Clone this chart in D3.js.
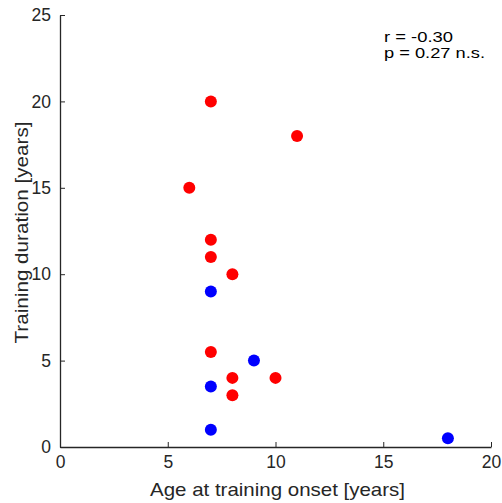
<!DOCTYPE html>
<html>
<head>
<meta charset="utf-8">
<script src="https://cdn.jsdelivr.net/npm/d3@7"></script>
<style>
  body { margin: 0; background: #fff; }
  svg text { font-family: "Liberation Sans", Arial, sans-serif; fill: #262626; }
</style>
</head>
<body>
<svg width="502" height="503"></svg>
<script>
// red group
const redAge = [7, 11, 6, 7, 7, 8, 7, 8, 10, 8];
const redDur = [20, 18, 15, 12, 11, 10, 5.5, 4, 4, 3];
// blue group
const blueAge = [7, 9, 7, 7, 18];
const blueDur = [9, 5, 3.5, 1, 0.5];

const xTicks = [0, 5, 10, 15, 20];
const yTicks = [0, 5, 10, 15, 20, 25];
const statLines = ["r = -0.30", "p = 0.27 n.s."];

const svg = d3.select("svg");

const x = d3.scaleLinear().domain([0, 20]).range([60, 491]);
const y = d3.scaleLinear().domain([0, 25]).range([447, 15]);

// axes, ticks point inward like matlab
const xAxis = d3.axisBottom(x).tickValues(xTicks).tickSize(-5).tickPadding(9).tickSizeOuter(0);
const yAxis = d3.axisLeft(y).tickValues(yTicks).tickSize(-5).tickPadding(9).tickSizeOuter(0);

const gx = svg.append("g").attr("transform", "translate(0,447)").call(xAxis);
const gy = svg.append("g").attr("transform", "translate(60,0)").call(yAxis);

[gx, gy].forEach(g => {
    g.select(".domain").attr("stroke", "#262626").attr("stroke-width", 1.3);
    g.selectAll(".tick line").attr("stroke", "#262626");
    g.selectAll(".tick text").attr("font-size", "17.5px").attr("fill", "#262626");
});

const red = redAge.map((a, i) => ({ x: a, y: redDur[i] }));
const blue = blueAge.map((a, i) => ({ x: a, y: blueDur[i] }));

svg.append("g").selectAll("circle")
    .data(red)
    .enter()
    .append("circle")
    .attr("r", 6)
    .attr("cx", d => x(d.x))
    .attr("cy", d => y(d.y))
    .attr("fill", "#ff0000");

svg.append("g").selectAll("circle")
    .data(blue)
    .enter()
    .append("circle")
    .attr("r", 6)
    .attr("cx", d => x(d.x))
    .attr("cy", d => y(d.y))
    .attr("fill", "#0000ff");

// axis labels (the original font runs wider, so stretch to its length)
svg.append("text")
    .attr("x", 277.5).attr("y", 496)
    .attr("text-anchor", "middle")
    .attr("font-size", "19px")
    .attr("textLength", 255)
    .attr("lengthAdjust", "spacingAndGlyphs")
    .text("Age at training onset [years]");

svg.append("text")
    .attr("transform", "translate(28,232.5) rotate(-90)")
    .attr("text-anchor", "middle")
    .attr("font-size", "19px")
    .attr("textLength", 222)
    .attr("lengthAdjust", "spacingAndGlyphs")
    .text("Training duration [years]");

// stats
const statLen = [69, 101];
svg.append("g").selectAll("text")
    .data(statLines)
    .enter()
    .append("text")
    .attr("x", 384)
    .attr("y", (d, i) => 41.5 + i * 16.5)
    .attr("font-size", "15px")
    .attr("textLength", (d, i) => statLen[i])
    .attr("lengthAdjust", "spacingAndGlyphs")
    .style("fill", "#000")
    .text(d => d);
</script>
</body>
</html>
